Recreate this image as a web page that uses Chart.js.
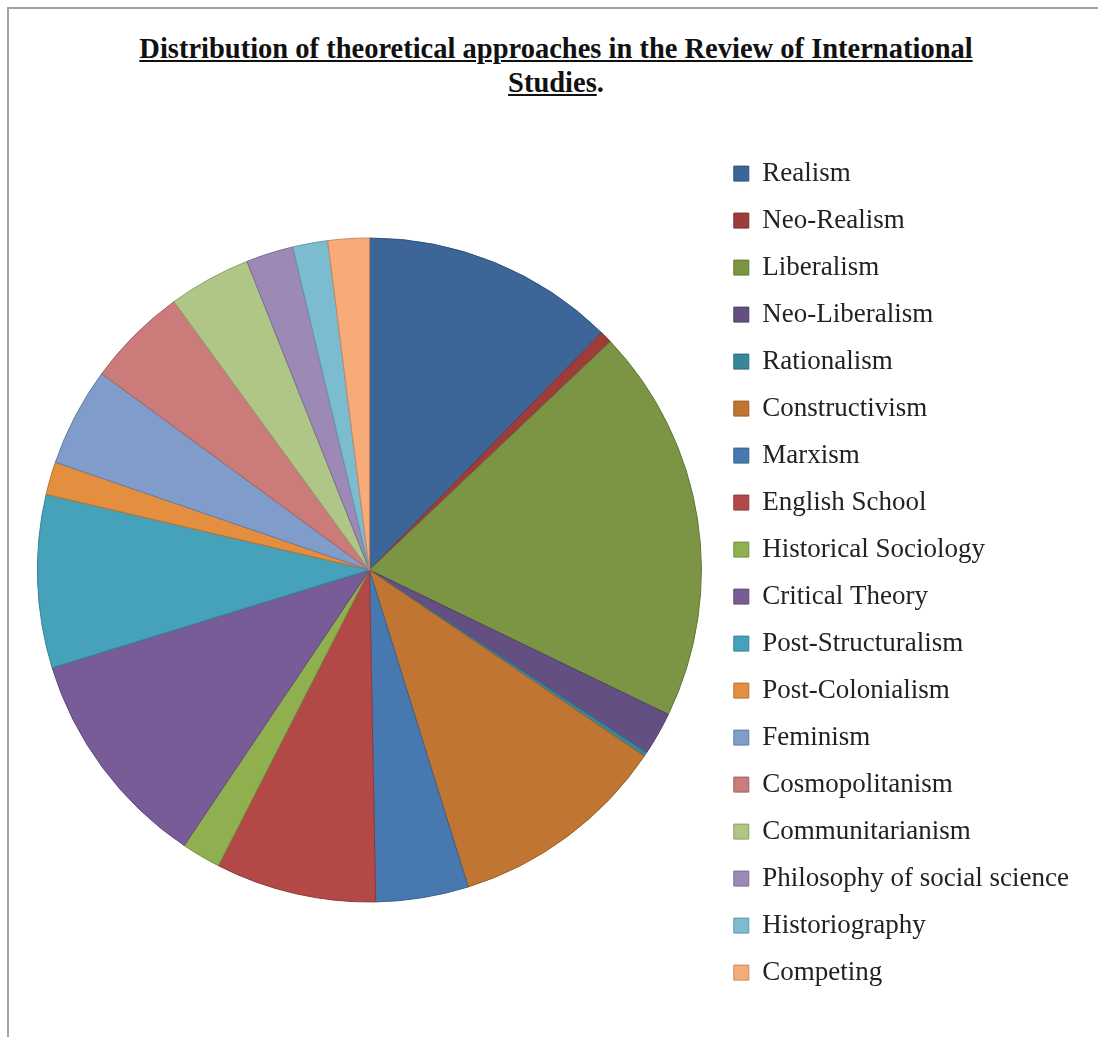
<!DOCTYPE html>
<html>
<head>
<meta charset="utf-8">
<script src="https://cdn.jsdelivr.net/npm/chart.js@4.4.0/dist/chart.umd.min.js"></script>
<style>
  html, body { margin: 0; padding: 0; background: #fff; }
  body { width: 1098px; height: 1037px; position: relative; overflow: hidden; }
  #frame { position: absolute; left: 7px; top: 7px; width: 1100px; height: 1040px;
           border-left: 2px solid #a3a3a3; border-top: 2px solid #a3a3a3; }
  #title { position: absolute; left: 0; width: 1112px; top: 32px; text-align: center;
           font-family: "Liberation Serif", serif; font-weight: bold; font-size: 28.5px;
           line-height: 34px; color: #111; }
  #title u { text-decoration: underline; }
  #wrap { position: absolute; left: 0; top: 102px; width: 1098px; height: 936px; }
</style>
</head>
<body>
<div id="frame"></div>
<div id="title"><u>Distribution of theoretical approaches in the Review of International</u><br><u>Studies</u>.</div>
<div id="wrap"><canvas id="pie"></canvas></div>
<script>
// approaches, share of articles in %
approaches = ["Realism", "Neo-Realism", "Liberalism", "Neo-Liberalism", "Rationalism",
  "Constructivism", "Marxism", "English School", "Historical Sociology", "Critical Theory",
  "Post-Structuralism", "Post-Colonialism", "Feminism", "Cosmopolitanism",
  "Communitarianism", "Philosophy of social science", "Historiography", "Competing"];
shares = [12.3, 0.6, 19.2, 2.1, 0.2, 10.7, 4.5, 7.8, 1.9, 10.8, 8.4, 1.6, 4.8, 4.9, 4.0, 2.3, 1.7, 2.0];

colors = ["#3c6697", "#9c3d3b", "#7b9544", "#634f82", "#37879c", "#c07533",
  "#4878b0", "#b24947", "#90b04f", "#785c97", "#45a2ba", "#e48e3f",
  "#7f9cca", "#cb7b7a", "#afc686", "#9c89b5", "#7cbcd0", "#f7ab79"];

// slightly darker edge for every slice
function darker(hex) {
  let r = parseInt(hex.substr(1, 2), 16), g = parseInt(hex.substr(3, 2), 16), b = parseInt(hex.substr(5, 2), 16);
  return "rgb(" + Math.round(r * 0.8) + "," + Math.round(g * 0.8) + "," + Math.round(b * 0.8) + ")";
}
edges = colors.map(darker);

const data = {
  labels: approaches,
  datasets: [{
    data: shares,
    backgroundColor: colors,
    borderColor: edges,
    borderWidth: 1,
  }]
};

const options = {
  responsive: true,
  maintainAspectRatio: false,
  animation: false,
  radius: 332,
  layout: { padding: { left: 25, right: 19, top: 0, bottom: 0 } },
  plugins: {
    tooltip: { enabled: false },
    legend: {
      position: 'right',
      // empty title only nudges the items down a little
      title: { display: true, text: '', font: { size: 1 }, padding: { top: 0, bottom: 5 } },
      labels: {
        boxWidth: 15,
        boxHeight: 15,
        padding: 20,
        color: '#222',
        font: { family: "'Liberation Serif', serif", size: 27 },
      }
    }
  }
};

const ctx = document.getElementById('pie').getContext('2d');
myChart = new Chart(ctx, {
  type: 'pie',
  data: data,
  options: options,
});
</script>
</body>
</html>
